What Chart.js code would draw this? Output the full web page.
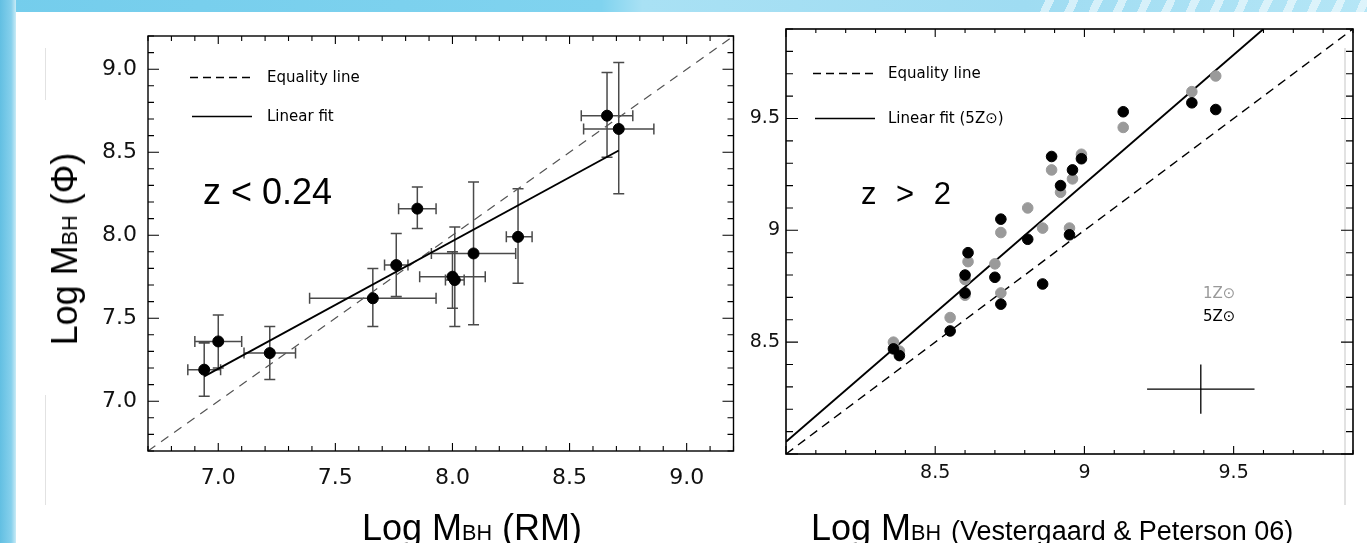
<!DOCTYPE html>
<html>
<head>
<meta charset="utf-8">
<script src="https://cdn.jsdelivr.net/npm/chart.js@4.4.1/dist/chart.umd.min.js"></script>
<style>
  body { margin: 0; width: 1367px; height: 543px; overflow: hidden; background: #fff; position: relative;
         font-family: "Liberation Sans", Arial, Helvetica, sans-serif; color: #000; }
  .band { position: absolute; left: 0; top: 0; width: 1367px; height: 12px;
          background: linear-gradient(90deg, #74cdec 0%, #80d3ef 44%, #a9e1f4 47%, #9fdcf2 75%, #b5e6f6 100%); }
  .streaks { position: absolute; left: 1030px; top: 0; width: 337px; height: 12px;
          background: repeating-linear-gradient(115deg, rgba(255,255,255,0) 0 14px, rgba(255,255,255,.55) 14px 22px); }
  .strip { position: absolute; left: 0; top: 0; width: 16px; height: 543px;
           background: linear-gradient(90deg, #62bfe2 0%, #86d0ec 70%, #c9ebf6 100%); }
  .faint { position: absolute; background: #e2e2e2; }
  canvas { position: absolute; top: 0; }
  .txt { position: absolute; white-space: nowrap; line-height: 1; }
  .dv { font-family: "DejaVu Sans", Verdana, sans-serif; }
  .sub { font-size: 0.6em; }
</style>
</head>
<body>
<div class="band"></div>
<div class="streaks"></div>
<div class="strip"></div>
<div class="faint" style="left:45px;top:48px;width:1px;height:52px"></div>
<div class="faint" style="left:45px;top:395px;width:1px;height:110px"></div>
<div class="faint" style="left:1344px;top:48px;width:2px;height:457px"></div>

<canvas id="leftChart" width="740" height="543" style="left:0"></canvas>
<canvas id="rightChart" width="627" height="543" style="left:740px"></canvas>

<!-- axis titles and annotations -->
<div class="txt" style="left:65px;top:249px;font-size:36px;transform:translate(-50%,-50%) rotate(-90deg)">Log M<span class="sub">BH</span> (Φ)</div>
<div class="txt" style="left:362px;top:510px;font-size:36px">Log M<span class="sub">BH</span> (RM)</div>
<div class="txt" style="left:811px;top:510px;font-size:36px">Log M<span class="sub">BH</span> <span style="font-size:27px">(Vestergaard &amp; Peterson 06)</span></div>

<div class="txt" style="left:203px;top:174px;font-size:36px">z &lt; 0.24</div>
<div class="txt" style="left:861px;top:178px;font-size:31px;word-spacing:11px">z &gt; 2</div>

<div class="txt dv" style="left:267px;top:70px;font-size:15px">Equality line</div>
<div class="txt dv" style="left:267px;top:109px;font-size:15px">Linear fit</div>
<div class="txt dv" style="left:888px;top:66px;font-size:15px">Equality line</div>
<div class="txt dv" style="left:888px;top:111px;font-size:15px">Linear fit (5Z⊙)</div>

<div class="txt dv" style="left:1203px;top:286px;font-size:15px;color:#999">1Z⊙</div>
<div class="txt dv" style="left:1203px;top:309px;font-size:15px;color:#000">5Z⊙</div>

<script>
// ---- left panel: z < 0.24 (RM vs Phi masses) ----
const leftMin = 6.7, leftMax = 9.2;
const leftTicks = [7.0, 7.5, 8.0, 8.5, 9.0];
const leftTickLabels = ['7.0', '7.5', '8.0', '8.5', '9.0'];

const rmMass   = [6.94, 7.00, 7.22, 7.66, 7.76, 7.85, 8.00, 8.01, 8.09, 8.28, 8.66, 8.71];
const phiMass  = [7.19, 7.36, 7.29, 7.62, 7.82, 8.16, 7.75, 7.73, 7.89, 7.99, 8.72, 8.64];
const rmLo     = [6.87, 6.90, 7.11, 7.39, 7.71, 7.77, 7.86, 7.97, 7.91, 8.23, 8.55, 8.56];
const rmHi     = [7.01, 7.10, 7.33, 7.93, 7.81, 7.93, 8.14, 8.05, 8.27, 8.34, 8.77, 8.86];
const phiLo    = [7.03, 7.20, 7.13, 7.45, 7.63, 8.04, 7.56, 7.45, 7.46, 7.71, 8.47, 8.25];
const phiHi    = [7.35, 7.52, 7.45, 7.80, 8.01, 8.29, 7.90, 8.05, 8.32, 8.28, 8.98, 9.04];

const leftFitX = [6.94, 8.71];
const leftFitY = [7.15, 8.51];

// ---- right panel: z > 2 ----
const rightMin = 8.0, rightMax = 9.9;
const rightTicks = [8.5, 9.0, 9.5];
const rightTickLabels = ['8.5', '9', '9.5'];

const vpMass = [8.36, 8.38, 8.55, 8.60, 8.60, 8.61, 8.70, 8.72, 8.72, 8.81, 8.86, 8.89, 8.92, 8.95, 8.96, 8.99, 9.13, 9.36, 9.44];
const mass5Z = [8.47, 8.44, 8.55, 8.72, 8.80, 8.90, 8.79, 9.05, 8.67, 8.96, 8.76, 9.33, 9.20, 8.98, 9.27, 9.32, 9.53, 9.57, 9.54];
const mass1Z = [8.50, 8.46, 8.61, 8.71, 8.78, 8.86, 8.85, 8.99, 8.72, 9.10, 9.01, 9.27, 9.17, 9.01, 9.23, 9.34, 9.46, 9.62, 9.69];

const rightFitX = [8.0, 9.6];
const rightFitY = [8.055, 9.9];

// typical error cross
const crossX = 9.39, crossY = 8.29, crossDX = 0.18, crossDY = 0.11;

const toPts = (xs, ys) => xs.map((x, i) => ({ x: x, y: ys[i] }));

// box + inward ticks every 0.1, longer at each 0.5
const framePlugin = {
    id: 'frame',
    afterDatasetsDraw(chart, args, opts) {
        const { ctx, chartArea: a, scales } = chart;
        const xs = scales.x, ys = scales.y;
        ctx.save();
        ctx.strokeStyle = '#000';
        ctx.lineWidth = opts.lw || 1.4;
        ctx.strokeRect(a.left, a.top, a.right - a.left, a.bottom - a.top);
        ctx.lineWidth = 1.1;
        ctx.beginPath();
        for (let i = Math.ceil(xs.min * 10 - 1e-6); i <= Math.floor(xs.max * 10 + 1e-6); i++) {
            const px = xs.getPixelForValue(i / 10);
            const len = i % 5 === 0 ? opts.xMajor : opts.xMinor;
            ctx.moveTo(px, a.bottom); ctx.lineTo(px, a.bottom - len);
            ctx.moveTo(px, a.top); ctx.lineTo(px, a.top + len);
        }
        for (let i = Math.ceil(ys.min * 10 - 1e-6); i <= Math.floor(ys.max * 10 + 1e-6); i++) {
            const py = ys.getPixelForValue(i / 10);
            const len = i % 5 === 0 ? opts.yMajor : opts.yMinor;
            ctx.moveTo(a.left, py); ctx.lineTo(a.left + len, py);
            ctx.moveTo(a.right, py); ctx.lineTo(a.right - len, py);
        }
        ctx.stroke();

        // legend line samples
        if (opts.legend) {
            const L = opts.legend;
            ctx.lineWidth = 1.3;
            ctx.setLineDash([8, 5]);
            ctx.beginPath(); ctx.moveTo(L.x0, L.y0); ctx.lineTo(L.x1, L.y0); ctx.stroke();
            ctx.setLineDash([]);
            ctx.lineWidth = 1.6;
            ctx.beginPath(); ctx.moveTo(L.x0 + 2, L.y1); ctx.lineTo(L.x1, L.y1); ctx.stroke();
        }
        ctx.restore();
    }
};

// error bars with caps, drawn under the points
const errorPlugin = {
    id: 'errbars',
    beforeDatasetsDraw(chart, args, opts) {
        if (!opts.on) return;
        const { ctx, scales: { x, y } } = chart;
        const cap = 5.5;
        ctx.save();
        ctx.strokeStyle = '#4a4a4a';
        ctx.lineWidth = 1.5;
        ctx.beginPath();
        rmMass.forEach((xv, i) => {
            const px = x.getPixelForValue(xv), py = y.getPixelForValue(phiMass[i]);
            const x0 = x.getPixelForValue(rmLo[i]), x1 = x.getPixelForValue(rmHi[i]);
            const y0 = y.getPixelForValue(phiLo[i]), y1 = y.getPixelForValue(phiHi[i]);
            ctx.moveTo(x0, py); ctx.lineTo(x1, py);
            ctx.moveTo(x0, py - cap); ctx.lineTo(x0, py + cap);
            ctx.moveTo(x1, py - cap); ctx.lineTo(x1, py + cap);
            ctx.moveTo(px, y0); ctx.lineTo(px, y1);
            ctx.moveTo(px - cap, y0); ctx.lineTo(px + cap, y0);
            ctx.moveTo(px - cap, y1); ctx.lineTo(px + cap, y1);
        });
        ctx.stroke();
        ctx.restore();
    }
};

const crossPlugin = {
    id: 'errcross',
    afterDatasetsDraw(chart, args, opts) {
        if (!opts.on) return;
        const { ctx, scales: { x, y } } = chart;
        ctx.save();
        ctx.strokeStyle = '#000';
        ctx.lineWidth = 1.3;
        ctx.beginPath();
        ctx.moveTo(x.getPixelForValue(crossX - crossDX), y.getPixelForValue(crossY));
        ctx.lineTo(x.getPixelForValue(crossX + crossDX), y.getPixelForValue(crossY));
        ctx.moveTo(x.getPixelForValue(crossX), y.getPixelForValue(crossY - crossDY));
        ctx.lineTo(x.getPixelForValue(crossX), y.getPixelForValue(crossY + crossDY));
        ctx.stroke();
        ctx.restore();
    }
};

function makeScales(min, max, ticks, labels, fontSize, xPad, yPad, yWidth, xHeight) {
    const fmt = v => { const k = ticks.indexOf(v); return k >= 0 ? labels[k] : ''; };
    const font = { size: fontSize, family: '"DejaVu Sans", Verdana, sans-serif' };
    const common = {
        type: 'linear', min: min, max: max,
        grid: { display: false, drawTicks: false },
        border: { display: false }
    };
    return {
        x: Object.assign({}, common, {
            position: 'bottom',
            afterBuildTicks: s => { s.ticks = ticks.map(v => ({ value: v })); },
            afterFit: s => { s.height = xHeight; },
            ticks: { autoSkip: false, maxRotation: 0, padding: xPad, color: '#111', font: font, callback: fmt }
        }),
        y: Object.assign({}, common, {
            position: 'left',
            afterBuildTicks: s => { s.ticks = ticks.map(v => ({ value: v })); },
            afterFit: s => { s.width = yWidth; },
            ticks: { autoSkip: false, padding: yPad, color: '#111', font: font, callback: fmt }
        })
    };
}

const baseOpts = {
    responsive: false,
    animation: false,
    events: [],
    plugins: { legend: { display: false }, tooltip: { enabled: false } }
};

new Chart(document.getElementById('leftChart'), {
    type: 'scatter',
    data: {
        datasets: [
            { data: toPts(rmMass, phiMass), backgroundColor: '#000', borderColor: '#000', pointRadius: 5.5, order: 0 },
            { type: 'line', data: toPts(leftFitX, leftFitY), borderColor: '#000', borderWidth: 1.9, pointRadius: 0, fill: false, order: 1 },
            { type: 'line', data: toPts([leftMin, leftMax], [leftMin, leftMax]), borderColor: '#555', borderWidth: 1.2,
              borderDash: [9, 7], pointRadius: 0, fill: false, order: 2 }
        ]
    },
    options: Object.assign({}, baseOpts, {
        layout: { padding: { left: 0, top: 36, right: 6, bottom: 0 } },
        scales: makeScales(leftMin, leftMax, leftTicks, leftTickLabels, 22, 14, 11, 148, 92),
        plugins: Object.assign({}, baseOpts.plugins, {
            frame: { xMajor: 8, xMinor: 5, yMajor: 11, yMinor: 6, lw: 1.4,
                     legend: { x0: 190, x1: 252, y0: 77.5, y1: 116.5 } },
            errbars: { on: true },
            errcross: { on: false }
        })
    }),
    plugins: [errorPlugin, framePlugin, crossPlugin]
});

new Chart(document.getElementById('rightChart'), {
    type: 'scatter',
    data: {
        datasets: [
            { data: toPts(vpMass, mass5Z), backgroundColor: '#000', borderColor: '#000', pointRadius: 5.3, order: 0 },
            { data: toPts(vpMass, mass1Z), backgroundColor: '#9a9a9a', borderColor: '#9a9a9a', pointRadius: 5.3, order: 1 },
            { type: 'line', data: toPts(rightFitX, rightFitY), borderColor: '#000', borderWidth: 1.9, pointRadius: 0, fill: false, order: 2 },
            { type: 'line', data: toPts([rightMin, rightMax], [rightMin, rightMax]), borderColor: '#000', borderWidth: 1.4,
              borderDash: [9, 6], pointRadius: 0, fill: false, order: 3 }
        ]
    },
    options: Object.assign({}, baseOpts, {
        layout: { padding: { left: 0, top: 29, right: 14, bottom: 0 } },
        scales: makeScales(rightMin, rightMax, rightTicks, rightTickLabels, 19, 8, 6, 46, 89),
        plugins: Object.assign({}, baseOpts.plugins, {
            frame: { xMajor: 8, xMinor: 4, yMajor: 12, yMinor: 7, lw: 1.6,
                     legend: { x0: 73, x1: 135, y0: 73.5, y1: 118.5 } },
            errbars: { on: false },
            errcross: { on: true }
        })
    }),
    plugins: [errorPlugin, framePlugin, crossPlugin]
});
</script>
</body>
</html>
